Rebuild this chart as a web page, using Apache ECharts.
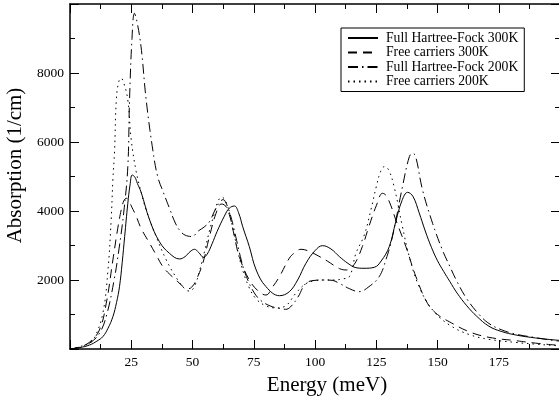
<!DOCTYPE html>
<html>
<head>
<meta charset="utf-8">
<script src="https://cdn.jsdelivr.net/npm/echarts@6/dist/echarts.min.js"></script>
<style>
  html, body { margin: 0; padding: 0; background: #fff; }
  #chart { width: 559px; height: 402px; }
</style>
</head>
<body>
<div id="chart"></div>
<script>
// Full Hartree-Fock 300K (solid)
const hf300E = [0, 4, 8, 11, 13.4, 15.5, 17.5, 19, 20.2, 21.3, 22.3, 23.6, 24.5, 25.4, 26.5, 27.5, 29, 32.5, 36.5, 40.6, 44.7, 47, 49, 50.8, 52.5, 54.5, 56, 58, 60, 63, 65, 67.1, 68.8, 70.5, 73.2, 76, 80, 85.5, 89.5, 92.9, 96.3, 100, 103.1, 106.5, 110, 113.5, 116.7, 120, 124.2, 127, 130.3, 133, 135.5, 137.8, 140, 142.5, 145, 147.5, 150, 152.5, 155, 158, 162, 166, 171, 176, 182, 190, 198, 200];
const hf300A = [0, 40, 116, 230, 357, 600, 936, 1350, 1806, 2500, 3255, 4223, 4750, 5043, 4980, 4800, 4550, 3740, 3110, 2773, 2610, 2680, 2820, 2890, 2800, 2660, 2750, 3050, 3400, 3850, 4080, 4145, 3950, 3545, 2966, 2290, 1806, 1545, 1660, 2000, 2484, 2850, 2995, 2900, 2675, 2480, 2357, 2340, 2368, 2550, 2966, 3700, 4300, 4541, 4420, 3950, 3420, 2950, 2560, 2250, 1960, 1620, 1250, 950, 660, 510, 406, 320, 260, 250];

// Free carriers 300K (dashed)
const fc300E = [0, 4, 8, 12, 14.8, 17.5, 19.5, 20.9, 22, 23, 24, 25, 27, 29, 32.5, 35, 37.9, 40.5, 43.3, 46.7, 48.5, 50, 51.5, 54.2, 56.9, 59.6, 61.7, 63, 65, 67, 69, 73.2, 77.3, 80, 82.7, 85.5, 89.5, 91.5, 94.3, 97, 100, 105, 110, 113, 116, 119.3, 122, 125, 127.6, 129, 131, 133, 137.1, 141.2, 145.9, 150, 154.8, 162.9, 171, 182, 190, 198, 200];
const fc300A = [0, 60, 200, 550, 1325, 2580, 3500, 4030, 4300, 4370, 4300, 4150, 3850, 3500, 3063, 2750, 2386, 2180, 2000, 1780, 1750, 1820, 2000, 2484, 3255, 3933, 4200, 4180, 3900, 3300, 2700, 2000, 1650, 1565, 1800, 2100, 2630, 2780, 2890, 2850, 2750, 2550, 2330, 2290, 2450, 2966, 3550, 4150, 4513, 4450, 4150, 3740, 2966, 2096, 1325, 1000, 791, 501, 338, 241, 170, 116, 110];

// Full Hartree-Fock 200K (dash-dot)
const hf200E = [0, 4, 8, 12, 15, 18, 20, 22, 23.6, 24.3, 25.3, 26.3, 27.3, 29, 31.1, 33.8, 35.8, 38, 40.6, 43, 45, 47, 50, 52, 55, 57, 59, 61, 62.5, 64, 66, 68, 70, 72, 75, 78, 82, 86, 88, 90, 93, 96.3, 100, 103, 107, 110, 114, 118, 122, 126.2, 129, 131.6, 135.7, 138.5, 139.8, 141, 143.9, 148, 152, 155, 158, 162, 167, 171, 176, 182, 190, 198, 200];
const hf200A = [0, 50, 170, 450, 1000, 2000, 2900, 4000, 5284, 7217, 9000, 9730, 9500, 8760, 7217, 5768, 4994, 4560, 4080, 3650, 3420, 3300, 3260, 3400, 3550, 3700, 4000, 4250, 4330, 4180, 3750, 3150, 2550, 2100, 1650, 1400, 1240, 1170, 1150, 1220, 1500, 1904, 1990, 2000, 1990, 1900, 1750, 1662, 1806, 2096, 2600, 3255, 4704, 5574, 5672, 5600, 4609, 3643, 2870, 2400, 1950, 1450, 1000, 740, 560, 430, 330, 240, 230];

// Free carriers 200K (dotted)
const fc200E = [0, 3.9, 8, 10, 13.4, 15.5, 16.8, 17.5, 18.2, 18.9, 19.9, 20.9, 22, 23.6, 25, 27, 29, 31.1, 35.2, 39.3, 44, 47.4, 49, 51, 53, 55, 57, 59, 60.5, 62, 64, 66, 68, 70, 73, 76, 80, 84, 88, 92, 96, 100, 104, 108, 111, 114, 116.7, 120.1, 122.8, 125, 126.8, 128.3, 130, 132.3, 135.7, 138.5, 142.5, 148, 154.8, 162.9, 171, 182, 190, 198, 200];
const fc200A = [0, 67, 170, 320, 1035, 2290, 3740, 4900, 5768, 7217, 7750, 7846, 7700, 7217, 6058, 5150, 4550, 4030, 3255, 2580, 2000, 1710, 1680, 1850, 2300, 2850, 3450, 3950, 4300, 4400, 4200, 3650, 3000, 2400, 1800, 1450, 1250, 1190, 1250, 1600, 1880, 1980, 2000, 2000, 2030, 2096, 2773, 3300, 4030, 4700, 5150, 5285, 5200, 4704, 3545, 2675, 1806, 1130, 700, 420, 280, 190, 140, 100, 95];

const seriesNames = ["Full Hartree-Fock 300K", "Free carriers 300K", "Full Hartree-Fock 200K", "Free carriers 200K"];

const FONT = "Liberation Serif";

function zip(xs, ys) {
  return xs.map((x, i) => [x, ys[i]]);
}

const chart = echarts.init(document.getElementById("chart"));

function curve(name, data, dash) {
  return {
    name: name,
    type: "line",
    data: data,
    smooth: 0.4,
    symbol: "none",
    xAxisIndex: 0,
    yAxisIndex: 0,
    lineStyle: { color: "#000", width: 1, type: dash },
    itemStyle: { color: "#000" },
  };
}

const boxAxis = (pos, showLabel) => ({
  type: "value",
  position: pos,
  min: 0,
  max: 200,
  interval: 25,
  axisLine: { show: true, onZero: false, lineStyle: { color: "#000", width: 1.5 } },
  axisTick: { show: true, inside: true, length: 9, lineStyle: { color: "#000" } },
  minorTick: { show: true, splitNumber: 2, length: 5, lineStyle: { color: "#000" } },
  splitLine: { show: false },
  axisLabel: {
    show: showLabel,
    showMinLabel: false,
    showMaxLabel: false,
    color: "#000",
    fontFamily: FONT,
    fontSize: 13.5,
    margin: 6,
  },
});

const xBottom = boxAxis("bottom", true);
xBottom.name = "Energy (meV)";
xBottom.nameLocation = "middle";
xBottom.nameGap = 26;
xBottom.nameTextStyle = { color: "#000", fontFamily: FONT, fontSize: 21, padding: [0, 0, 0, 24] };

const yAxisBase = (pos, showLabel) => ({
  type: "value",
  position: pos,
  min: 0,
  max: 10000,
  interval: 2000,
  axisLine: { show: true, onZero: false, lineStyle: { color: "#000", width: 1.5 } },
  axisTick: { show: true, inside: true, length: 9, lineStyle: { color: "#000" } },
  minorTick: { show: true, splitNumber: 2, length: 5, lineStyle: { color: "#000" } },
  splitLine: { show: false },
  axisLabel: {
    show: showLabel,
    showMinLabel: false,
    showMaxLabel: false,
    color: "#000",
    fontFamily: FONT,
    fontSize: 13.5,
    margin: 6,
    formatter: (v) => String(v),
  },
});

const yLeft = yAxisBase("left", true);
yLeft.name = "Absorption (1/cm)";
yLeft.nameLocation = "middle";
yLeft.nameGap = 44;
yLeft.nameTextStyle = { color: "#000", fontFamily: FONT, fontSize: 21, padding: [0, 0, 0, 22] };

chart.setOption({
  animation: false,
  backgroundColor: "#fff",
  grid: { left: 70, right: -1, top: 4, bottom: 53, containLabel: false, outerBoundsMode: "none" },
  legend: {
    data: seriesNames,
    orient: "vertical",
    left: 341,
    top: 28,
    backgroundColor: "#fff",
    borderColor: "#000",
    borderWidth: 1,
    padding: [3, 6, 3, 6],
    itemWidth: 30,
    itemHeight: 14,
    itemGap: 0.5,
    itemStyle: { opacity: 0 },
    textStyle: { color: "#000", fontFamily: FONT, fontSize: 13.7, lineHeight: 14, padding: [0, 0, 0, 3] },
  },
  xAxis: [xBottom, boxAxis("top", false)],
  yAxis: [yLeft, yAxisBase("right", false)],
  series: [
    curve(seriesNames[0], zip(hf300E, hf300A), "solid"),
    curve(seriesNames[1], zip(fc300E, fc300A), [9, 6]),
    curve(seriesNames[2], zip(hf200E, hf200A), [10, 4, 1.5, 4]),
    curve(seriesNames[3], zip(fc200E, fc200A), [1.5, 4]),
  ],
});
</script>
</body>
</html>
